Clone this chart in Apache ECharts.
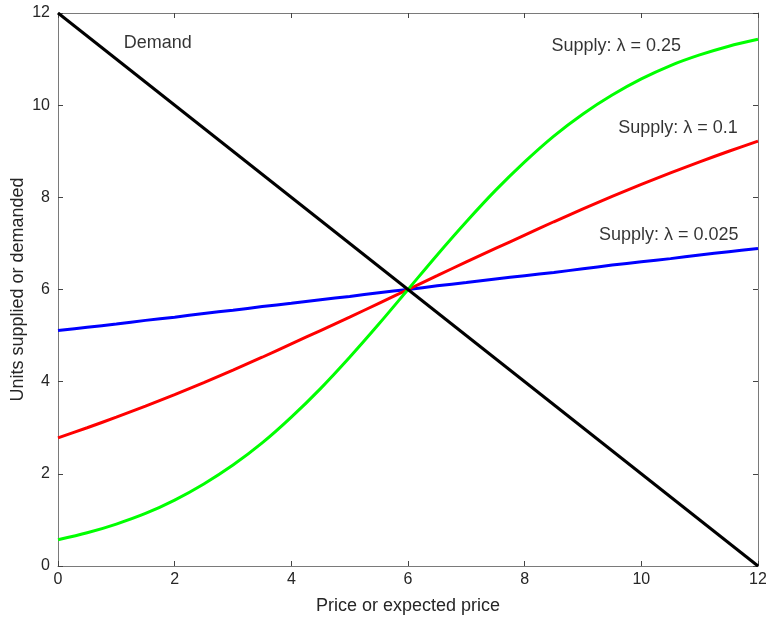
<!DOCTYPE html>
<html><head><meta charset="utf-8">
<script src="https://cdn.jsdelivr.net/npm/echarts@6/dist/echarts.min.js"></script>
<style>html,body{margin:0;padding:0;background:#fff}#c{width:766px;height:619px}</style>
</head><body><div id="c"></div>
<script>
var prices = [0,0.5,1,1.5,2,2.5,3,3.5,4,4.5,5,5.5,6,6.5,7,7.5,8,8.5,9,9.5,10,10.5,11,11.5,12];
var demandPrices = [0,12];
var demand = [12,0];
var supply025 = [0.57,0.72,0.91,1.14,1.43,1.78,2.19,2.67,3.23,3.85,4.53,5.25,6.00,6.75,7.47,8.15,8.77,9.33,9.81,10.22,10.57,10.86,11.09,11.28,11.43];
var supply010 = [2.78,3.00,3.23,3.47,3.72,3.98,4.25,4.53,4.82,5.11,5.40,5.70,6.00,6.30,6.60,6.89,7.18,7.47,7.75,8.02,8.28,8.53,8.77,9.00,9.22];
var supply0025 = [5.11,5.18,5.25,5.33,5.40,5.48,5.55,5.63,5.70,5.78,5.85,5.93,6.00,6.08,6.15,6.23,6.30,6.37,6.45,6.53,6.60,6.67,6.75,6.82,6.89];
var labelTexts = ['Demand','Supply: λ = 0.25','Supply: λ = 0.1','Supply: λ = 0.025'];
var labelX = [1.71, 9.57, 10.63, 10.47];
var labelY = [11.35, 11.28, 9.50, 7.18];

function pairs(xs, ys){ return xs.map(function(x,i){return [x, ys[i]];}); }
var font = 'Helvetica, "Liberation Sans", Arial, sans-serif';
var axisCol = '#7a7a7a';
var txtCol = '#262626';

function xAx(pos, show){
  return {type:'value', position:pos, min:0, max:12, interval:2,
    axisLine:{show:true, onZero:false, lineStyle:{color:axisCol, width:1}},
    axisTick:{show:true, inside:true, length:5, lineStyle:{color:'#444'}},
    axisLabel:{show:show, color:txtCol, fontSize:16, fontFamily:font, margin:6},
    splitLine:{show:false},
    name: show ? 'Price or expected price' : '', nameLocation:'middle', nameGap:31,
    nameTextStyle:{color:txtCol, fontSize:18, fontFamily:font}};
}
function yAx(pos, show){
  return {type:'value', position:pos, min:0, max:12, interval:2,
    axisLine:{show:true, onZero:false, lineStyle:{color:axisCol, width:1}},
    axisTick:{show:true, inside:true, length:5, lineStyle:{color:'#444'}},
    axisLabel:{show:show, color:txtCol, fontSize:16, fontFamily:font, margin:8},
    splitLine:{show:false},
    name: show ? 'Units supplied or demanded' : '', nameLocation:'middle', nameGap:31,
    nameMoveOverlap:false,
    nameTextStyle:{color:txtCol, fontSize:18, fontFamily:font}};
}
function line(data, color){
  return {type:'line', data:data, smooth:0.3, symbol:'none', xAxisIndex:0, yAxisIndex:0,
    lineStyle:{color:color, width:3}, z:3};
}
var chart = echarts.init(document.getElementById('c'));
chart.setOption({
  animation:false,
  backgroundColor:'#fff',
  grid:{left:58, right:8, top:13, bottom:53, containLabel:false, outerBoundsMode:'none'},
  xAxis:[xAx('bottom', true), xAx('top', false)],
  yAxis:[yAx('left', true), yAx('right', false)],
  series:[
    line(pairs(prices, supply0025), '#0000ff'),
    line(pairs(prices, supply010), '#ff0000'),
    line(pairs(prices, supply025), '#00ff00'),
    {type:'line', data:pairs(demandPrices, demand), symbol:'none', lineStyle:{color:'#000', width:3}, z:4},
    {type:'scatter', symbolSize:0, silent:true, z:5,
      data: labelTexts.map(function(t,i){return {name:t, value:[labelX[i], labelY[i]]};}),
      label:{show:true, position:'inside', formatter:function(p){return p.name;},
        color:'#000', fontSize:18, fontFamily:font}}
  ]
});
</script></body></html>
